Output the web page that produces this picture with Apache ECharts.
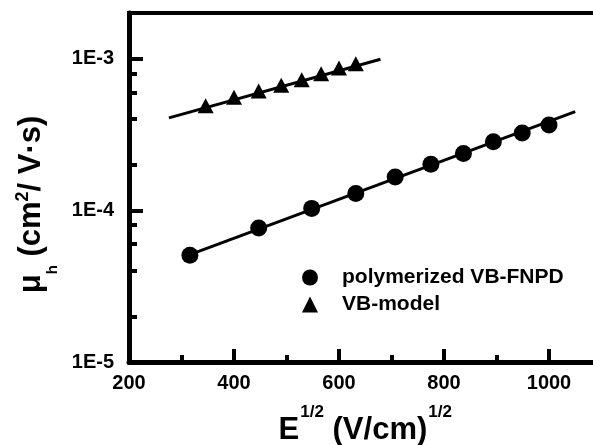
<!DOCTYPE html>
<html>
<head>
<meta charset="utf-8">
<script src="https://cdn.jsdelivr.net/npm/echarts@6/dist/echarts.min.js"></script>
<style>
  html, body { margin: 0; padding: 0; background: #fff; }
  #chart { width: 593px; height: 445px; }
</style>
</head>
<body>
<div id="chart"></div>
<script>
// values
const circleX = [316, 447, 548, 632, 707, 775, 837, 894, 949, 1000]
const circleY = [5.05e-5, 7.65e-5, 1.03e-4, 1.29e-4, 1.66e-4, 2.01e-4, 2.37e-4, 2.83e-4, 3.23e-4, 3.65e-4]
const triX = [346, 400, 447, 490, 529, 566, 600, 632]
const triY = [4.9e-4, 5.56e-4, 6.11e-4, 6.68e-4, 7.26e-4, 7.94e-4, 8.67e-4, 9.27e-4]
// straight fit lines (end points)
const fitCircleX = [316, 1050]
const fitCircleY = [5.1e-5, 4.48e-4]
const fitTriX = [276, 679]
const fitTriY = [4.07e-4, 9.9e-4]
// ticks
const xMajor = [200, 400, 600, 800, 1000]
const xMinor = [300, 500, 700, 900, 1100]
const yMajor = [1e-5, 1e-4, 1e-3]
const yMinor = [2e-5, 4e-5, 6e-5, 8e-5, 2e-4, 4e-4, 6e-4, 8e-4]

const FONT = 'Liberation Sans, Arial, sans-serif'

function pairs(xs, ys) {
  return xs.map(function (x, i) { return [x, ys[i]] })
}

let myChart = echarts.init(document.getElementById('chart'), null, {renderer: 'canvas'})

let axisLine = {show: true, lineStyle: {color: '#000', width: 5}}
let tickLabelRich = {b: {fontSize: 20, fontWeight: 'bold', fontFamily: FONT, color: '#000'}}

let option = {
  backgroundColor: '#fff',
  animation: false,
  grid: {
    left: 129,
    top: 13,
    width: 472.5,
    height: 349,
    outerBoundsMode: 'none',
    containLabel: false,
    show: true,
    borderColor: '#000',
    borderWidth: 4
  },
  legend: {
    data: [
      {name: 'polymerized VB-FNPD', icon: 'circle'},
      {name: 'VB-model', icon: 'triangle'}
    ],
    orient: 'vertical',
    left: 297,
    top: 262,
    itemWidth: 16,
    itemHeight: 16,
    itemGap: 6,
    textStyle: {
      fontSize: 21,
      fontWeight: 'bold',
      fontFamily: FONT,
      color: '#000',
      lineHeight: 20,
      padding: [0, 0, 0, 19]
    }
  },
  xAxis: [
    {
      type: 'value',
      min: 200,
      max: 1100,
      position: 'bottom',
      axisLine: axisLine,
      splitLine: {show: false},
      axisTick: {inside: true, length: 13, lineStyle: {color: '#000', width: 4}, customValues: xMajor},
      axisLabel: {
        customValues: xMajor,
        margin: 11,
        formatter: function (v) { return '{b|' + v + '}' },
        rich: tickLabelRich
      },
      name: '{m|E}{s|1/2}{m| (V/cm)}{s|1/2}',
      nameLocation: 'middle',
      nameGap: 42,
      nameTextStyle: {
        rich: {
          m: {fontSize: 31, fontWeight: 'bold', fontFamily: FONT, color: '#000', lineHeight: 31, verticalAlign: 'top', padding: [11, 0, 0, 0]},
          s: {fontSize: 17, fontWeight: 'bold', fontFamily: FONT, color: '#000', lineHeight: 17, verticalAlign: 'top', padding: [0, 0, 0, 1]}
        }
      }
    },
    {
      type: 'value',
      min: 200,
      max: 1100,
      position: 'bottom',
      axisLine: {show: false},
      splitLine: {show: false},
      axisLabel: {show: false},
      axisTick: {inside: true, length: 7, lineStyle: {color: '#000', width: 4}, customValues: xMinor}
    }
  ],
  yAxis: [
    {
      type: 'log',
      logBase: 10,
      min: 1e-5,
      max: 2e-3,
      position: 'left',
      axisLine: axisLine,
      splitLine: {show: false},
      axisTick: {inside: true, length: 14, lineStyle: {color: '#000', width: 4}, customValues: yMajor},
      axisLabel: {
        customValues: yMajor,
        margin: 15,
        formatter: function (v) {
          return '{b|1E' + Math.round(Math.log10(v)) + '}'
        },
        rich: tickLabelRich
      },
      name: '{m|\u03bc}{b|h}{m| (cm}{t|2}{m|/ V\u00b7s)}',
      nameLocation: 'middle',
      nameRotate: 90,
      nameGap: 68,
      nameTextStyle: {
        padding: [0, 34, 0, 0],
        rich: {
          m: {fontSize: 31, fontWeight: 'bold', fontFamily: FONT, color: '#000', lineHeight: 32, verticalAlign: 'top', padding: [7, 0, 0, 0]},
          t: {fontSize: 18, fontWeight: 'bold', fontFamily: FONT, color: '#000', lineHeight: 18, verticalAlign: 'top', padding: [5, 0, 0, 0]},
          b: {fontSize: 15, fontWeight: 'bold', fontFamily: FONT, color: '#000', lineHeight: 15, verticalAlign: 'top', padding: [37, 0, 0, 0]}
        }
      }
    },
    {
      type: 'log',
      logBase: 10,
      min: 1e-5,
      max: 2e-3,
      position: 'left',
      axisLine: {show: false},
      splitLine: {show: false},
      axisLabel: {show: false},
      axisTick: {inside: true, length: 8, lineStyle: {color: '#000', width: 4}, customValues: yMinor}
    }
  ],
  series: [
    {
      name: 'fit circle',
      type: 'line',
      data: pairs(fitCircleX, fitCircleY),
      symbol: 'none',
      lineStyle: {color: '#000', width: 3},
      z: 2
    },
    {
      name: 'fit triangle',
      type: 'line',
      data: pairs(fitTriX, fitTriY),
      symbol: 'none',
      lineStyle: {color: '#000', width: 3},
      z: 2
    },
    {
      name: 'polymerized VB-FNPD',
      type: 'scatter',
      symbol: 'circle',
      symbolSize: 17,
      data: pairs(circleX, circleY),
      itemStyle: {color: '#000', opacity: 1},
      z: 3
    },
    {
      name: 'VB-model',
      type: 'scatter',
      symbol: 'triangle',
      symbolSize: [16, 15],
      data: pairs(triX, triY),
      itemStyle: {color: '#000', opacity: 1},
      z: 3
    }
  ]
}

myChart.setOption(option)
</script>
</body>
</html>
